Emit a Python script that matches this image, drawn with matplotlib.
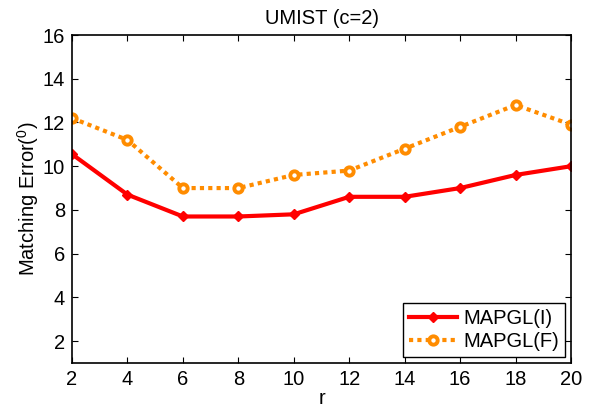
import matplotlib
matplotlib.use('Agg')
import matplotlib.pyplot as plt
import numpy as np

plt.rcParams['font.family'] = ['Liberation Sans', 'DejaVu Sans']
plt.rcParams['mathtext.fontset'] = 'custom'
plt.rcParams['mathtext.rm'] = 'Liberation Sans'
plt.rcParams['mathtext.it'] = 'Liberation Sans'

r = [2, 4, 6, 8, 10, 12, 14, 16, 18, 20]
mapgl_i = [10.55, 8.7, 7.7, 7.7, 7.8, 8.6, 8.6, 9.0, 9.6, 10.0]
mapgl_f = [12.2, 11.2, 9.0, 9.0, 9.6, 9.8, 10.8, 11.8, 12.8, 11.9]

fig = plt.figure(figsize=(5.93, 4.09), dpi=100)
ax = fig.add_axes([0.1214, 0.1125, 0.8416, 0.8019])

ax.plot(r, mapgl_i, color='#ff0000', linewidth=3, marker='D', markersize=5.5,
        label='MAPGL(I)')
ax.plot(r, mapgl_f, color='#ff8c00', linewidth=3, linestyle=(0, (1, 1)),
        marker='o', markersize=6, markerfacecolor='white',
        markeredgewidth=2.8, label='MAPGL(F)')

ax.set_xlim(2, 20)
ax.set_ylim(1, 16)
ax.set_xticks(r)
ax.set_yticks(np.arange(2, 17, 2))
ax.tick_params(direction='in', top=True, right=True, labelsize=14.5, length=4,
               width=0.8, pad=5)
for s in ax.spines.values():
    s.set_linewidth(1.2)

ax.set_title('UMIST (c=2)', fontsize=14.5, pad=8)
ax.set_xlabel('r', fontsize=14.5, labelpad=0)
ax.set_ylabel('Matching Error($^0$)', fontsize=14.5, labelpad=1)

leg = ax.legend(loc='lower right', fontsize=14.5, fancybox=False, framealpha=1,
                edgecolor='black', handlelength=2.4, borderaxespad=0.3,
                labelspacing=0.2, handletextpad=0.3, borderpad=0.3)
leg.get_frame().set_linewidth(1.0)

fig.savefig('out.png', dpi=100)
